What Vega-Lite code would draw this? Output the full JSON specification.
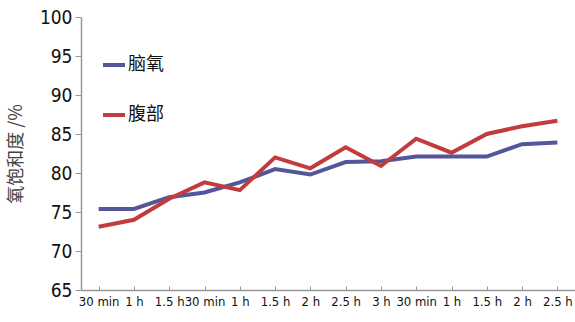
{
  "$schema": "https://vega.github.io/schema/vega-lite/v6.json",
  "width": 494,
  "height": 273,
  "autosize": {"type": "none"},
  "padding": {"left": 81, "top": 17, "right": 0, "bottom": 32},
  "background": "white",
  "config": {
    "view": {"stroke": null},
    "font": "'DejaVu Sans Condensed', 'Liberation Sans Narrow', sans-serif"
  },
  "data": {
    "values": [
      {"idx": 0, "series": "脑氧", "value": 75.4},
      {"idx": 1, "series": "脑氧", "value": 75.4},
      {"idx": 2, "series": "脑氧", "value": 76.9},
      {"idx": 3, "series": "脑氧", "value": 77.5},
      {"idx": 4, "series": "脑氧", "value": 78.8},
      {"idx": 5, "series": "脑氧", "value": 80.5},
      {"idx": 6, "series": "脑氧", "value": 79.8},
      {"idx": 7, "series": "脑氧", "value": 81.4},
      {"idx": 8, "series": "脑氧", "value": 81.5},
      {"idx": 9, "series": "脑氧", "value": 82.1},
      {"idx": 10, "series": "脑氧", "value": 82.1},
      {"idx": 11, "series": "脑氧", "value": 82.1},
      {"idx": 12, "series": "脑氧", "value": 83.7},
      {"idx": 13, "series": "脑氧", "value": 83.9},
      {"idx": 0, "series": "腹部", "value": 73.1},
      {"idx": 1, "series": "腹部", "value": 74.0},
      {"idx": 2, "series": "腹部", "value": 76.7},
      {"idx": 3, "series": "腹部", "value": 78.8},
      {"idx": 4, "series": "腹部", "value": 77.8},
      {"idx": 5, "series": "腹部", "value": 82.0},
      {"idx": 6, "series": "腹部", "value": 80.6},
      {"idx": 7, "series": "腹部", "value": 83.3},
      {"idx": 8, "series": "腹部", "value": 80.9},
      {"idx": 9, "series": "腹部", "value": 84.4},
      {"idx": 10, "series": "腹部", "value": 82.6},
      {"idx": 11, "series": "腹部", "value": 85.0},
      {"idx": 12, "series": "腹部", "value": 86.0},
      {"idx": 13, "series": "腹部", "value": 86.7}
    ]
  },
  "mark": {"type": "line", "strokeWidth": 4},
  "encoding": {
    "x": {
      "field": "idx",
      "type": "ordinal",
      "scale": {"type": "point", "padding": 0.5},
      "axis": {
        "title": null,
        "labelAngle": 0,
        "labelExpr": "['30 min','1 h','1.5 h','30 min','1 h','1.5 h','2 h','2.5 h','3 h','30 min','1 h','1.5 h','2 h','2.5 h'][datum.value]",
        "labelFontSize": 13,
        "labelOverlap": false,
        "labelColor": "#111",
        "labelPadding": 9,
        "domainColor": "#999",
        "domainWidth": 1.5,
        "tickColor": "#999",
        "tickSize": -4,
        "grid": false
      }
    },
    "y": {
      "field": "value",
      "type": "quantitative",
      "scale": {"domain": [65, 100], "nice": false, "zero": false},
      "axis": {
        "title": "氧饱和度 /%",
        "titleFont": "Noto Sans CJK SC",
        "titleFontWeight": "normal",
        "titleFontSize": 18,
        "titleColor": "#444",
        "titlePadding": 14,
        "values": [65, 70, 75, 80, 85, 90, 95, 100],
        "labelFontSize": 19,
        "labelColor": "#111",
        "labelPadding": 3,
        "domainColor": "#999",
        "domainWidth": 1.5,
        "tickColor": "#999",
        "tickSize": 6,
        "grid": false
      }
    },
    "color": {
      "field": "series",
      "type": "nominal",
      "scale": {"domain": ["脑氧", "腹部"], "range": ["#54569b", "#c23b3d"]},
      "legend": {
        "title": null,
        "orient": "none",
        "legendX": 20,
        "legendY": 35,
        "symbolType": "stroke",
        "symbolSize": 484,
        "symbolStrokeWidth": 4,
        "labelFont": "Noto Sans CJK SC",
        "labelFontSize": 18,
        "labelColor": "#111",
        "labelOffset": 1,
        "rowPadding": 28
      }
    }
  }
}
